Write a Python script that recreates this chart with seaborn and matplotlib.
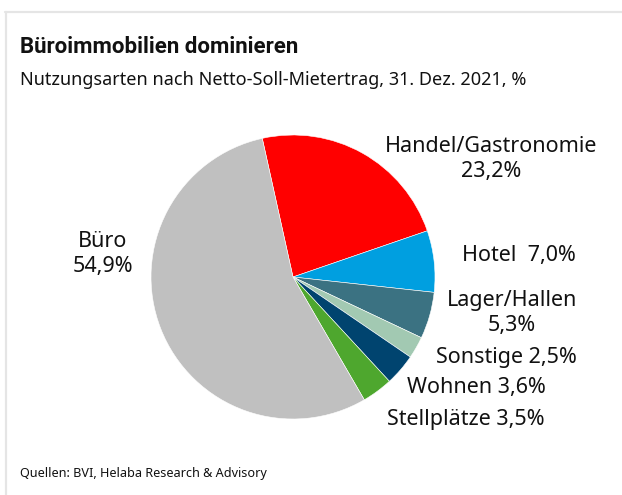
import matplotlib
matplotlib.use("Agg")
import matplotlib.pyplot as plt
import seaborn as sns

# Daten
kategorien = ["Handel/Gastronomie", "Hotel", "Lager/Hallen", "Sonstige",
              "Wohnen", "Stellplätze", "Büro"]
anteile = [23.2, 7.0, 5.3, 2.5, 3.6, 3.5, 54.9]
farben = ["#ff0000", "#009fe0", "#3b7282", "#a2c9b2", "#00446f", "#4ea72e", "#c0c0c0"]
beschriftungen = ["Handel/Gastronomie\n23,2%", "Hotel  7,0%", "Lager/Hallen\n5,3%",
                  "Sonstige 2,5%", "Wohnen 3,6%", "Stellplätze 3,5%", "Büro\n54,9%"]
# Positionen der Beschriftungen (Pixel im Bild)
label_pos = [(491, 159), (519, 255), (512, 313), (506, 357), (476, 387), (466, 420), (103, 254)]

sns.set_theme(style="white")
plt.rcParams['font.family'] = ['Noto Sans', 'DejaVu Sans']

W, H = 622, 495
fig = plt.figure(figsize=(W / 100, H / 100), dpi=100)

# Rahmen (oben und links)
fig.add_artist(plt.Line2D([5 / W, 1], [1 - 12 / H, 1 - 12 / H], color="#e5e5e5", lw=1.6))
fig.add_artist(plt.Line2D([5.5 / W, 5.5 / W], [0, 1 - 12 / H], color="#e5e5e5", lw=1.6))

# Kreisdiagramm
cx, cy, r = 293, 277, 142
ax = fig.add_axes([(cx - r) / W, (H - cy - r) / H, 2 * r / W, 2 * r / H])
ax.pie(anteile, colors=farben, startangle=102.5, counterclock=False,
       wedgeprops=dict(edgecolor="white", linewidth=0.4))
ax.set_xlim(-1, 1)
ax.set_ylim(-1, 1)
ax.set_aspect("equal")
ax.axis("off")

for txt, (x, y) in zip(beschriftungen, label_pos):
    fig.text(x / W, 1 - y / H, txt, ha="center", va="center", fontsize=15.5,
             color="#111111", linespacing=1.25)

# Titel, Untertitel, Quelle
fig.text(20 / W, 1 - 47 / H, "Büroimmobilien dominieren", fontsize=16,
         fontweight="bold", family=["Roboto", "DejaVu Sans"],
         ha="left", va="center", color="#111111")
fig.text(20 / W, 1 - 80 / H, "Nutzungsarten nach Netto-Soll-Mietertrag, 31. Dez. 2021, %",
         fontsize=13, ha="left", va="center", color="#111111")
fig.text(20 / W, 1 - 473 / H, "Quellen: BVI, Helaba Research & Advisory",
         fontsize=9.1, ha="left", va="center", color="#111111")

fig.savefig("out.png", dpi=100)
